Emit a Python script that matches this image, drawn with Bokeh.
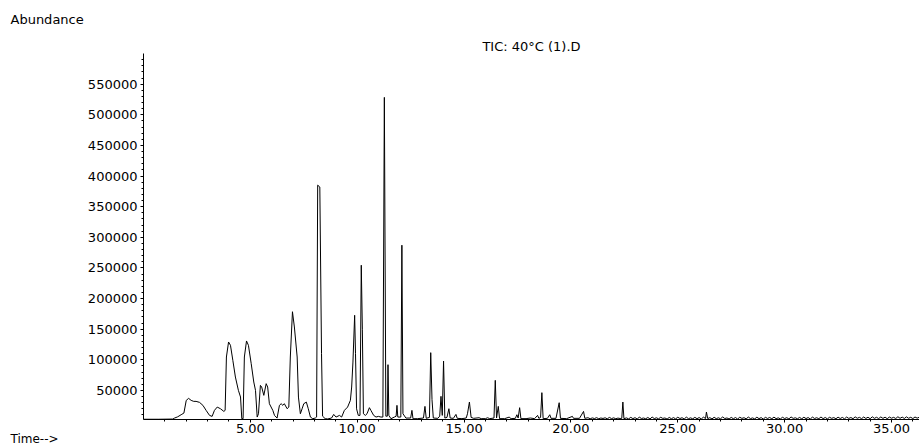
from bokeh.plotting import figure
from bokeh.models import FixedTicker, NumeralTickFormatter, Title, Range1d
from bokeh.embed import file_html
from bokeh.resources import INLINE

# ---- data (time in min, abundance) ----
t1 = [0.00, 0.70, 1.37, 1.45, 1.60, 1.76, 1.89, 2.00, 2.11, 2.23,
      2.35, 2.46, 2.62, 2.78, 2.93, 3.09, 3.21, 3.32, 3.45, 3.60,
      3.76, 3.82, 3.88, 3.98, 4.07, 4.18, 4.30, 4.44, 4.54, 4.60,
      4.66, 4.72, 4.82, 4.91, 5.04, 5.16, 5.24, 5.32, 5.38, 5.47,
      5.53, 5.63, 5.74, 5.81, 5.89, 6.05, 6.13, 6.25, 6.36, 6.44,
      6.52, 6.59, 6.72, 6.80, 6.87, 6.97, 7.06, 7.19, 7.25, 7.34,
      7.42, 7.50, 7.62, 7.71, 7.81, 7.92, 8.04]
a1 = [3000, 3000, 3300, 4900, 7000, 10400, 13100, 33800, 37100, 33800,
      32200, 32200, 30600, 25700, 17500, 9300, 7700, 17500, 22900, 20200,
      15800, 17500, 104600, 129100, 123700, 99200, 71900, 50200, 39300, 3900,
      3900, 104600, 130800, 123700, 93700, 63800, 50200, 6600, 12000, 58300,
      55600, 42000, 61100, 55600, 28400, 17500, 9300, 4900, 25700, 28400,
      25700, 28400, 20200, 22900, 104600, 178500, 153600, 104600, 39200, 12000,
      20000, 28400, 31000, 20200, 6600, 3900, 5000]

t2 = [8.10, 8.15, 8.25, 8.33, 8.38, 8.50, 8.62, 8.80, 8.90, 9.01,
      9.17, 9.27, 9.40, 9.55, 9.68, 9.74, 9.80, 9.88, 9.92, 9.97,
      10.05, 10.13, 10.19, 10.24, 10.29, 10.38, 10.46, 10.57, 10.64, 10.77,
      10.88, 10.99, 11.11, 11.20, 11.27, 11.34, 11.41, 11.44, 11.48, 11.58,
      11.74, 11.82, 11.86, 11.90, 12.01, 12.04, 12.09, 12.14, 12.28, 12.50,
      12.56, 12.61, 12.83, 13.10, 13.17, 13.23, 13.38, 13.44, 13.50, 13.56,
      13.77, 13.86, 13.92, 13.98, 14.04, 14.10, 14.20, 14.29, 14.35]
a2 = [6600, 385100, 382000, 110000, 8000, 4000, 3500, 5000, 10900, 6600,
      9300, 6600, 17500, 22900, 33800, 55600, 96400, 172700, 110000, 20000,
      9300, 9300, 254400, 150000, 12000, 9300, 12000, 21900, 17500, 9300,
      6600, 7700, 6600, 6600, 528400, 8000, 8000, 92100, 9300, 3900,
      6600, 8000, 25700, 6600, 6600, 6600, 287100, 12000, 4900, 5000,
      17500, 3900, 4000, 5000, 24000, 4500, 6000, 111700, 35000, 5000,
      4500, 8000, 40400, 9300, 98000, 5000, 6000, 20200, 5000]

t3 = [14.50, 14.62, 14.68, 14.90, 15.10, 15.16, 15.25, 15.33, 15.45, 15.70,
      15.80, 16.00, 16.10, 16.20, 16.40, 16.46, 16.52, 16.60, 16.66, 16.90,
      17.11, 17.20, 17.40, 17.47, 17.53, 17.60, 17.66, 17.90, 18.10, 18.30,
      18.44, 18.50, 18.58, 18.64, 18.70, 18.90, 19.01, 19.07, 19.30, 19.45,
      19.51, 19.80, 20.07, 20.12, 20.40, 20.59, 20.65, 20.80, 20.90, 21.00,
      21.10, 21.20, 21.30, 21.40, 21.50, 21.60, 21.70, 21.80, 21.90, 22.00,
      22.10, 22.20, 22.30, 22.38, 22.43, 22.48]
a3 = [4500, 10900, 4500, 4000, 5000, 12000, 31100, 6000, 4500, 5500,
      4000, 4000, 5500, 4000, 5000, 66500, 5000, 24000, 4000, 4000,
      6500, 4000, 4500, 10400, 5000, 21900, 4000, 4000, 5000, 4000,
      9300, 4500, 6000, 46400, 4000, 4500, 10400, 4500, 4500, 30000,
      4500, 4000, 7700, 4500, 4500, 15800, 4500, 5500, 3800, 5200,
      4200, 5600, 3900, 5000, 4300, 5400, 3700, 6000, 4100, 5300,
      3800, 4900, 4200, 4500, 31100, 4000]

t4 = [22.6, 22.7, 22.8, 22.9, 23.0, 23.1, 23.2, 23.3, 23.4, 23.5,
      23.6, 23.7, 23.8, 23.9, 24.0, 24.1, 24.2, 24.3, 24.4, 24.5,
      24.6, 24.7, 24.8, 24.9, 25.0, 25.1, 25.2, 25.3, 25.4, 25.5,
      25.6, 25.7, 25.8, 25.9, 26.0, 26.1, 26.2, 26.3, 26.34, 26.4,
      26.5, 26.6, 26.7, 26.8, 26.9, 27.0, 27.1, 27.2, 27.3, 27.4,
      27.5, 27.6, 27.7, 27.8, 27.9, 28.0, 28.1, 28.2, 28.3, 28.4,
      28.5, 28.6, 28.7, 28.8, 28.9, 29.0, 29.1, 29.2, 29.3, 29.4,
      29.5, 29.6, 29.7, 29.8, 29.9, 30.0, 30.1, 30.2, 30.3, 30.4,
      30.5, 30.6, 30.7, 30.8, 30.9, 31.0, 31.1, 31.2, 31.3, 31.4,
      31.5, 31.6, 31.7, 31.8, 31.9, 32.0, 32.1, 32.2, 32.3, 32.4,
      32.5, 32.6, 32.7, 32.8, 32.9, 33.0, 33.1, 33.2, 33.3, 33.4,
      33.5, 33.6, 33.7, 33.8, 33.9, 34.0, 34.1, 34.2, 34.3, 34.4,
      34.5, 34.6, 34.7, 34.8, 34.9, 35.0, 35.1, 35.2, 35.3, 35.4,
      35.5, 35.6, 35.7, 35.8, 35.9, 36.0, 36.1, 36.2, 36.3]
a4 = [5200, 3600, 6100, 4000, 5600, 3400, 6400, 4300, 5000, 3800,
      5900, 3500, 6600, 4100, 5400, 3700, 6200, 4400, 5100, 3300,
      6000, 3900, 5700, 3600, 6300, 4200, 5500, 3400, 6500, 4000,
      5300, 3700, 6100, 3900, 5800, 3500, 6400, 4300, 14800, 4100,
      5600, 3600, 6200, 4000, 5400, 3800, 6700, 4200, 5100, 3500,
      6000, 3900, 5800, 3400, 6300, 4400, 5500, 3700, 6600, 4100,
      5200, 3600, 6400, 4000, 5700, 3300, 6100, 4300, 5900, 3800,
      6500, 4000, 5300, 3600, 6200, 4200, 5600, 3500, 6800, 4400,
      5400, 3800, 6000, 3700, 6300, 4100, 5800, 3400, 6500, 4300,
      5500, 3900, 6700, 4000, 5900, 3600, 6200, 4500, 5700, 3800,
      6400, 4200, 6000, 3700, 6600, 4400, 5800, 3900, 6900, 4600,
      6100, 4000, 6700, 4300, 6300, 3800, 7000, 4500, 6200, 4100,
      6800, 4400, 6400, 3900, 6600, 4700, 6100, 4200, 7100, 4500,
      6500, 4300, 6900, 4600, 6200, 4100, 6700, 4800, 6300]

x_major_ticks = [5, 10, 15, 20, 25, 30, 35]
y_major_ticks = [50000, 100000, 150000, 200000, 250000, 300000,
                 350000, 400000, 450000, 500000, 550000]

title_text = "TIC: 40°C (1).D"
y_label_text = "Abundance"
x_label_text = "Time-->"

time_min = t1 + t2 + t3 + t4
abundance = a1 + a2 + a3 + a4

FONT = "DejaVu Sans"
W, H = 919, 446
LEFT, TOP, BOTTOM = 143, 53, 27

p = figure(width=W, height=H, output_backend="svg", toolbar_location=None,
           x_range=Range1d(0, 36.31), y_range=Range1d(2600, 600000),
           min_border_left=LEFT, min_border_right=0,
           min_border_top=TOP, min_border_bottom=BOTTOM)
p.background_fill_color = "white"
p.border_fill_color = "white"
p.outline_line_color = None
p.grid.visible = False

p.line(time_min, abundance, line_color="black", line_width=1)

x_minor = [m for m in range(1, 37) if m % 5 != 0]
y_minor = [v for v in range(10000, 600001, 10000) if v % 50000 != 0]

xa = p.xaxis[0]
xa.ticker = FixedTicker(ticks=x_major_ticks, minor_ticks=x_minor)
xa.formatter = NumeralTickFormatter(format="0.00")
ya = p.yaxis[0]
ya.ticker = FixedTicker(ticks=y_major_ticks, minor_ticks=y_minor)
ya.formatter = NumeralTickFormatter(format="0")

for ax in (xa, ya):
    ax.axis_line_color = "black"
    ax.axis_line_width = 1
    ax.major_tick_line_color = "black"
    ax.minor_tick_line_color = "black"
    ax.major_tick_in = 0
    ax.minor_tick_in = 0
    ax.major_tick_out = 3
    ax.minor_tick_out = 2
    ax.major_label_text_font = FONT
    ax.major_label_text_font_size = "13px"
    ax.major_label_text_color = "black"
xa.major_label_standoff = 1
ya.major_label_standoff = 3

# outermost title: "Abundance" at the top-left corner
p.title.text = y_label_text
p.title.align = "left"
p.title.offset = 10 - LEFT
p.title.text_font = FONT
p.title.text_font_size = "13px"
p.title.text_font_style = "normal"
p.title.text_color = "black"
p.title.standoff = 19

# chart title centred just above the plot area
p.add_layout(Title(text=title_text, align="center", standoff=0,
                   text_font=FONT, text_font_size="13px", text_font_style="normal",
                   text_color="black"), "above")
# "Time-->" at the bottom-left corner
p.add_layout(Title(text=x_label_text, align="left", offset=10 - LEFT, standoff=-11,
                   text_font=FONT, text_font_size="12px", text_font_style="normal",
                   text_color="black"), "below")

open("out.html", "w").write(file_html(p, INLINE))
